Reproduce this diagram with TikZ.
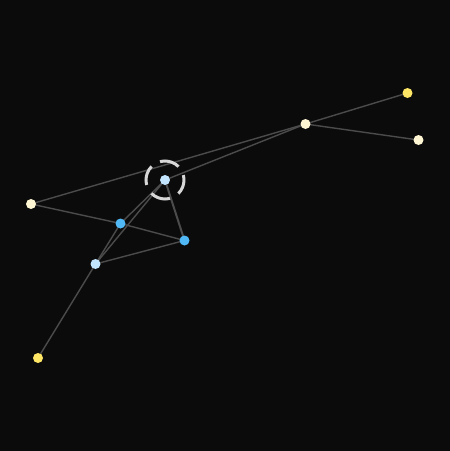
\documentclass[tikz,border=0pt]{standalone}
\definecolor{bgc}{RGB}{11,11,11}
\definecolor{creamc}{RGB}{255,246,212}
\definecolor{yelc}{RGB}{255,230,100}
\definecolor{lbluec}{RGB}{194,228,252}
\definecolor{bluec}{RGB}{80,185,245}
\definecolor{edgec}{RGB}{75,75,75}
\definecolor{ringc}{RGB}{215,215,215}
\begin{document}
\begin{tikzpicture}[x=1pt,y=-1pt,
  dot/.style={circle,inner sep=0pt,minimum size=10pt,draw=none},
  cream/.style={dot,fill=creamc},
  yel/.style={dot,fill=yelc},
  lblue/.style={dot,fill=lbluec},
  blue/.style={dot,fill=bluec},
  edge/.style={draw=edgec,line width=1.4pt},
  thick edge/.style={edge,line width=2pt},
  ring/.style={draw=ringc,line width=3pt,dash pattern=on 20pt off 9.8pt,dash phase=5pt}]
\fill[bgc] (0,0) rectangle (450,451);
\useasboundingbox (0,0) rectangle (450,451);
\coordinate (a) at (165,180);
\coordinate (b) at (305.5,124);
\coordinate (c) at (407.5,93);
\coordinate (d) at (418.5,140);
\coordinate (e) at (31,204);
\coordinate (f) at (120.5,223.5);
\coordinate (g) at (184.5,240.5);
\coordinate (h) at (95.5,264);
\coordinate (i) at (38,358);
\draw[edge] (e) -- (b);
\draw[edge] (a) -- (b);
\draw[edge] (b) -- (c);
\draw[edge] (b) -- (d);
\draw[edge] (e) -- (f);
\draw[edge] (f) -- (g);
\draw[edge] (h) -- (g);
\draw[edge] (h) -- (f);
\draw[edge] (f) -- (a);
\draw[edge] (h) -- (a);
\draw[thick edge] (a) -- (g);
\draw[edge] (h) -- (i);
\draw[ring] (a) circle (19);
\node[lblue] (A) at (a) {};
\node[cream] (B) at (b) {};
\node[yel] (C) at (c) {};
\node[cream] (D) at (d) {};
\node[cream] (E) at (e) {};
\node[blue] (F) at (f) {};
\node[blue] (G) at (g) {};
\node[lblue] (H) at (h) {};
\node[yel] (I) at (i) {};
\end{tikzpicture}
\end{document}
